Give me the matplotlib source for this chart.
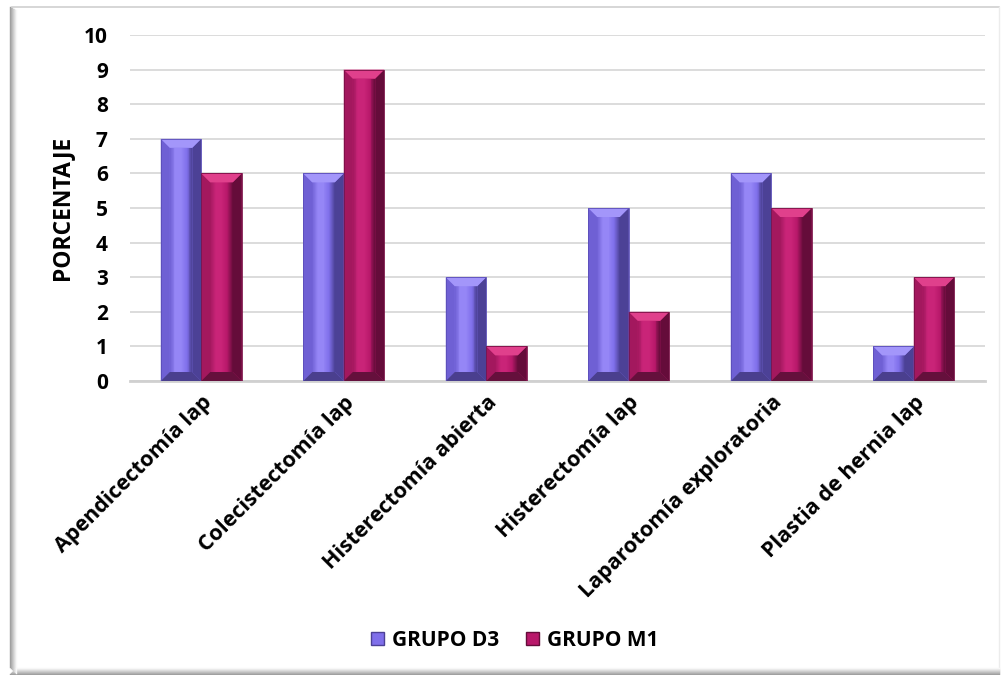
import numpy as np
import matplotlib
matplotlib.use("Agg")
import matplotlib.pyplot as plt
from matplotlib.patches import Polygon, Rectangle
from matplotlib.lines import Line2D
import matplotlib.colors as mcolors
import matplotlib.transforms as mtransforms

categories = ["Apendicectomía lap", "Colecistectomía lap", "Histerectomía abierta",
              "Histerectomía lap", "Laparotomía exploratoria", "Plastia de hernia lap"]
grupo_d3 = [7, 6, 3, 5, 6, 1]
grupo_m1 = [6, 9, 1, 2, 5, 3]
series_names = ["GRUPO D3", "GRUPO M1"]
y_ticks = list(range(0, 11))

FONT = ["Open Sans", "DejaVu Sans"]
plt.rcParams["font.family"] = FONT
plt.rcParams["font.weight"] = "bold"

W, H = 1002, 675
fig = plt.figure(figsize=(W / 100, H / 100), dpi=100)
fig.patch.set_facecolor("white")

# chart frame: thin top/right border, soft shadow on the left and bottom
fig.add_artist(Line2D([12 / W, 999 / W], [1 - 7 / H, 1 - 7 / H], transform=fig.transFigure,
                      color="#d0d0d0", lw=1.2))
fig.add_artist(Line2D([999 / W, 999 / W], [4 / H, 1 - 7 / H], transform=fig.transFigure,
                      color="#ececec", lw=1.0))
for i, g in enumerate(np.linspace(0.62, 0.97, 7)):
    c = (g, g, g)
    fig.add_artist(Line2D([(10 + i) / W, (10 + i) / W], [(8 - i) / H, 1 - (7 + 0.5 * i) / H],
                          transform=fig.transFigure, color=c, lw=1.0))
    fig.add_artist(Line2D([(10 + i) / W, 999 / W], [(1.5 + i) / H, (1.5 + i) / H],
                          transform=fig.transFigure, color=c, lw=1.0))

ax_l, ax_r, ax_t, ax_b = 130, 985, 35, 381
ax = fig.add_axes([ax_l / W, 1 - ax_b / H, (ax_r - ax_l) / W, (ax_b - ax_t) / H])
ax.set_xlim(-0.5, len(categories) - 0.5)
ax.set_ylim(0, 10)

x = np.arange(len(categories))
bw = 0.284

styles = [
    dict(face="#7f6fea", center="#9586f6", left="#6f60d4", right="#4c4196",
         top="#a396fa", bottom="#4a3f8e", edge="#5a4db8"),
    dict(face="#b8186a", center="#c92478", left="#a3185e", right="#650c3a",
         top="#e0408c", bottom="#65103c", edge="#7a0f45"),
]

px_per_x = (ax_r - ax_l) / len(categories)
px_per_y = (ax_b - ax_t) / 10.0
bev_px = 9.0
bx = bev_px / px_per_x
by = bev_px / px_per_y


def bevel(ax, rect, st):
    x0, y0 = rect.get_x(), rect.get_y()
    w, h = rect.get_width(), rect.get_height()
    x1, y1 = x0 + w, y0 + h
    b_y = min(by, h / 2.0)
    # shaded face: gradient across the bar
    n = 24
    cmap = mcolors.LinearSegmentedColormap.from_list(
        "f", [st["left"], st["center"], st["center"], st["face"], st["right"]])
    for k in range(n):
        xa = x0 + bx + (w - 2 * bx) * k / n
        xb = x0 + bx + (w - 2 * bx) * (k + 1) / n
        ax.add_patch(Rectangle((xa, y0 + b_y), xb - xa + 1e-4, h - 2 * b_y,
                               facecolor=cmap((k + 0.5) / n), edgecolor="none", zorder=3))
    polys = [
        ([(x0, y0), (x0 + bx, y0 + b_y), (x0 + bx, y1 - b_y), (x0, y1)], st["left"]),
        ([(x1, y0), (x1 - bx, y0 + b_y), (x1 - bx, y1 - b_y), (x1, y1)], st["right"]),
        ([(x0, y1), (x0 + bx, y1 - b_y), (x1 - bx, y1 - b_y), (x1, y1)], st["top"]),
        ([(x0, y0), (x0 + bx, y0 + b_y), (x1 - bx, y0 + b_y), (x1, y0)], st["bottom"]),
    ]
    for pts, col in polys:
        ax.add_patch(Polygon(pts, closed=True, facecolor=col, edgecolor="none", zorder=4))
    ax.add_patch(Rectangle((x0, y0), w, h, facecolor="none", edgecolor=st["edge"],
                           lw=0.6, zorder=5))


for i, (vals, st) in enumerate(zip([grupo_d3, grupo_m1], styles)):
    bars = ax.bar(x + (i - 0.5) * bw, vals, width=bw, color=st["face"],
                  label=series_names[i], zorder=2)
    for rect in bars:
        bevel(ax, rect, st)

ax.set_yticks(y_ticks)
ax.set_yticklabels([str(t) for t in y_ticks], fontsize=15, fontweight="bold")
ax.set_xticks(x)
ax.set_xticklabels(categories, rotation=45, ha="right", rotation_mode="anchor",
                   fontsize=15.5, fontweight="bold")
shift = mtransforms.ScaledTranslation(6 / 100, 0, fig.dpi_scale_trans)
for lbl in ax.get_xticklabels():
    lbl.set_transform(lbl.get_transform() + shift)
ax.tick_params(axis="y", length=0, pad=16)
ax.tick_params(axis="x", length=0, pad=8)
ax.grid(axis="y", color="#d9d9d9", lw=1.3, zorder=0)
ax.set_axisbelow(True)
for s in ["top", "right", "left"]:
    ax.spines[s].set_visible(False)
ax.spines["bottom"].set_color("#d0d0d0")
ax.spines["bottom"].set_linewidth(2.0)
ax.spines["bottom"].set_zorder(1)

fig.text(62 / W, 1 - 208 / H, "PORCENTAJE", rotation=90, ha="center", va="center",
         fontsize=16.5, fontweight="bold")

handles = [Rectangle((0, 0), 1, 1, facecolor=st["face"], edgecolor=st["right"], lw=1.0)
           for st in styles]
fig.legend(handles, series_names, loc="center", bbox_to_anchor=(515 / W, 1 - 640 / H),
           ncol=2, frameon=False, handlelength=0.6, handleheight=0.6, handletextpad=0.4,
           columnspacing=1.3, prop=dict(size=15, weight="bold"))

fig.savefig("out.png", dpi=100, facecolor="white")
